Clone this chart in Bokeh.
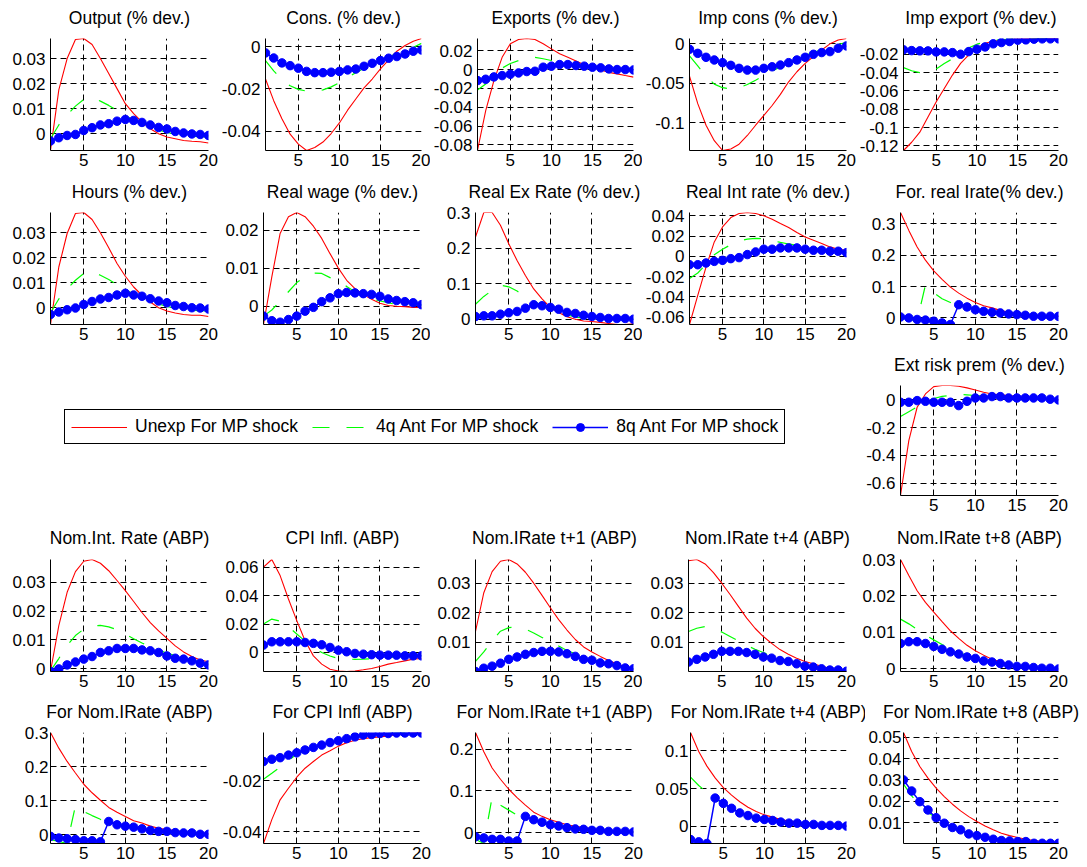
from bokeh.plotting import figure
from bokeh.layouts import column, row
from bokeh.models import (Range1d, FixedTicker, CustomJSTickFormatter,
                          Legend, LegendItem, LinearAxis)
from bokeh.embed import file_html
from bokeh.resources import INLINE

periods = list(range(1, 21))

series_names = ["Unexp For MP shock", "4q Ant For MP shock", "8q Ant For MP shock"]
x_ticks = [5, 10, 15, 20]

# ---- responses (20 quarters) ----
output_unexp = [-0.0067, 0.0175, 0.030, 0.0376, 0.038, 0.0356, 0.030, 0.024, 0.018, 0.012,
                0.008, 0.0047, 0.002, 0.0, -0.0013, -0.002, -0.0027, -0.003, -0.0032, -0.0037]
output_ant4 = [-0.002, 0.0035, 0.0075, 0.011, 0.0137, 0.0145, 0.013, 0.0113, 0.0093, 0.0072,
               0.0055, 0.0042, 0.003, 0.0015, 0.0005, -0.0002, -0.0006, -0.001, -0.0012, -0.0013]
output_ant8 = [-0.0029, -0.0016, -0.0007, -0.0003, 0.0013, 0.0024, 0.0035, 0.004, 0.005, 0.0057,
               0.0053, 0.0045, 0.0035, 0.0025, 0.0019, 0.0009, 0.0003, -0.0001, -0.0003, -0.0007]
output_yticks = [0, 0.01, 0.02, 0.03]

cons_unexp = [-0.0153, -0.0255, -0.034, -0.0413, -0.046, -0.049, -0.0476, -0.045, -0.041, -0.036,
              -0.030, -0.0247, -0.0195, -0.0153, -0.0105, -0.0063, -0.0022, 0.0005, 0.0025, 0.0038]
cons_ant4 = [-0.0066, -0.0115, -0.0155, -0.0185, -0.0202, -0.021, -0.021, -0.0204, -0.019, -0.017,
             -0.0145, -0.0123, -0.0102, -0.0085, -0.0068, -0.005, -0.0033, -0.0018, -0.0003, 0.0015]
cons_ant8 = [-0.003, -0.0054, -0.0077, -0.009, -0.0102, -0.0117, -0.0123, -0.0123, -0.0121, -0.0117,
             -0.011, -0.0106, -0.0093, -0.0079, -0.0066, -0.0055, -0.0047, -0.0035, -0.0022, -0.0016]
cons_yticks = [-0.04, -0.02, 0]

exports_unexp = [-0.086, -0.0437, -0.0117, 0.013, 0.0275, 0.032, 0.033, 0.032, 0.0275, 0.022,
                 0.0167, 0.013, 0.009, 0.005, 0.0025, -0.0004, -0.003, -0.0046, -0.0064, -0.008]
exports_ant4 = [-0.0217, -0.0153, -0.007, 0.0015, 0.0065, 0.0096, 0.012, 0.013, 0.0115, 0.0096,
                0.008, 0.0062, 0.0045, 0.003, 0.0015, 0.0, -0.0008, -0.0012, -0.0012, -0.001]
exports_ant8 = [-0.0117, -0.0103, -0.0078, -0.0064, -0.005, -0.0036, -0.0021, -0.0018, 0.0025, 0.0036,
                0.0053, 0.0053, 0.0043, 0.0036, 0.0025, 0.0018, 0.0007, 0.0, 0.0, -0.0004]
exports_yticks = [-0.08, -0.06, -0.04, -0.02, 0, 0.02]

impcons_unexp = [-0.041, -0.0757, -0.103, -0.1226, -0.135, -0.133, -0.127, -0.116, -0.103, -0.0906,
                 -0.078, -0.064, -0.048, -0.0353, -0.0247, -0.016, -0.0077, 0.0, 0.005, 0.0068]
impcons_ant4 = [-0.0153, -0.028, -0.041, -0.051, -0.0555, -0.057, -0.0555, -0.0515, -0.046, -0.040,
                -0.0345, -0.029, -0.024, -0.019, -0.0145, -0.011, -0.007, -0.004, -0.001, 0.002]
impcons_ant8 = [-0.0068, -0.012, -0.017, -0.0204, -0.0238, -0.0272, -0.031, -0.0332, -0.0332, -0.031,
                -0.029, -0.0268, -0.0238, -0.0204, -0.017, -0.0132, -0.011, -0.0098, -0.0055, -0.0026]
impcons_yticks = [-0.1, -0.05, 0]

impexp_unexp = [-0.125, -0.116, -0.105, -0.0885, -0.072, -0.0574, -0.0427, -0.030, -0.0207, -0.0134,
                -0.008, -0.0058, -0.0047, -0.0036, -0.0033, -0.003, -0.0029, -0.0028, -0.0028, -0.0028]
impexp_ant4 = [-0.0346, -0.038, -0.040, -0.039, -0.036, -0.030, -0.025, -0.018, -0.013, -0.009,
               -0.0065, -0.005, -0.004, -0.0035, -0.0033, -0.0032, -0.0031, -0.003, -0.003, -0.003]
impexp_ant8 = [-0.0152, -0.016, -0.0163, -0.0163, -0.0174, -0.0174, -0.0182, -0.020, -0.0171, -0.0145,
               -0.012, -0.0086, -0.0072, -0.0061, -0.0046, -0.0043, -0.0035, -0.0032, -0.0032, -0.0032]
impexp_yticks = [-0.12, -0.1, -0.08, -0.06, -0.04, -0.02]

hours_unexp = [-0.0067, 0.0163, 0.0297, 0.0377, 0.0381, 0.0353, 0.030, 0.024, 0.0177, 0.0126,
               0.0083, 0.005, 0.0023, 0.0, -0.0013, -0.0021, -0.0027, -0.003, -0.003, -0.0035]
hours_ant4 = [-0.002, 0.0035, 0.0075, 0.011, 0.0137, 0.0145, 0.013, 0.0113, 0.0093, 0.0072,
              0.0055, 0.0042, 0.003, 0.0015, 0.0005, -0.0002, -0.0006, -0.001, -0.0012, -0.0013]
hours_ant8 = [-0.0027, -0.0017, -0.0008, -0.0001, 0.0013, 0.0025, 0.0035, 0.0041, 0.0051, 0.0058,
              0.0051, 0.0046, 0.0036, 0.0027, 0.002, 0.0009, 0.0005, 0.0, -0.0001, -0.0005]
hours_yticks = [0, 0.01, 0.02, 0.03]

wage_unexp = [-0.0048, 0.0077, 0.0191, 0.0235, 0.0246, 0.0235, 0.021, 0.0178, 0.0138, 0.010,
              0.0068, 0.0046, 0.0031, 0.0018, 0.0008, 0.0002, 0.0, -0.0001, -0.0003, -0.0003]
wage_ant4 = [-0.0026, -0.001, 0.0013, 0.0038, 0.0062, 0.0078, 0.0087, 0.0086, 0.0075, 0.0063,
             0.0052, 0.0038, 0.0025, 0.0019, 0.0014, 0.0009, 0.0005, 0.0003, 0.0002, 0.0002]
wage_ant8 = [-0.0026, -0.0038, -0.0042, -0.0035, -0.0026, -0.0013, -0.0003, 0.0012, 0.0022, 0.0033,
             0.0036, 0.0035, 0.0033, 0.0031, 0.0026, 0.0019, 0.0015, 0.0012, 0.0009, 0.0004]
wage_yticks = [0, 0.01, 0.02]

rer_unexp = [0.231, 0.300, 0.300, 0.264, 0.212, 0.165, 0.123, 0.085, 0.057, 0.033,
             0.019, 0.0066, 0.0, -0.005, -0.0066, -0.009, -0.012, -0.015, -0.015, -0.013]
rer_ant4 = [0.042, 0.064, 0.081, 0.096, 0.091, 0.079, 0.064, 0.05, 0.039, 0.03,
            0.02, 0.012, 0.006, 0.003, 0.0015, 0.0005, 0.0, -0.0005, -0.0005, -0.0005]
rer_ant8 = [0.0075, 0.0094, 0.0094, 0.014, 0.018, 0.0217, 0.031, 0.0406, 0.0377, 0.033,
            0.028, 0.019, 0.016, 0.011, 0.0075, 0.0047, 0.0019, 0.0019, 0.0019, 0.0]
rer_yticks = [0, 0.1, 0.2, 0.3]

rir_unexp = [-0.0674, -0.0387, -0.0106, 0.0142, 0.029, 0.0383, 0.0423, 0.0433, 0.0423, 0.040,
             0.0367, 0.0324, 0.0284, 0.0235, 0.019, 0.0159, 0.0126, 0.0093, 0.007, 0.006]
rir_ant4 = [-0.022, -0.0165, -0.008, 0.0015, 0.007, 0.0115, 0.015, 0.017, 0.0178, 0.0172,
            0.0155, 0.0138, 0.0122, 0.0108, 0.0095, 0.0083, 0.0072, 0.0062, 0.0052, 0.0045]
rir_ant8 = [-0.0083, -0.0083, -0.0066, -0.005, -0.004, -0.0023, -0.0013, 0.0017, 0.0043, 0.007,
            0.007, 0.0083, 0.0083, 0.0083, 0.007, 0.006, 0.006, 0.005, 0.005, 0.0036]
rir_yticks = [-0.06, -0.04, -0.02, 0, 0.02, 0.04]

frir_unexp = [0.336, 0.279, 0.226, 0.184, 0.15, 0.123, 0.098, 0.079, 0.063, 0.049,
              0.039, 0.032, 0.024, 0.018, 0.014, 0.0105, 0.0084, 0.0074, 0.0053, 0.005]
frir_ant4 = [0.0, -0.005, -0.009, 0.105, 0.08, 0.061, 0.049, 0.041, 0.034, 0.027,
             0.022, 0.018, 0.015, 0.012, 0.0095, 0.0078, 0.0064, 0.0053, 0.0045, 0.004]
frir_ant8 = [0.003, 0.0, -0.005, -0.007, -0.0105, -0.016, -0.021, 0.042, 0.035, 0.026,
             0.021, 0.018, 0.016, 0.0126, 0.0105, 0.0084, 0.0053, 0.0053, 0.0053, 0.005]
frir_yticks = [0, 0.1, 0.2, 0.3]

erp_unexp = [-0.69, -0.294, -0.053, 0.043, 0.096, 0.104, 0.104, 0.099, 0.087, 0.072,
             0.055, 0.043, 0.036, 0.031, 0.024, 0.019, 0.014, 0.01, 0.005, 0.002]
erp_ant4 = [-0.12, -0.085, -0.05, -0.02, 0.01, 0.025, 0.033, 0.038, 0.037, 0.032,
            0.027, 0.022, 0.018, 0.014, 0.011, 0.008, 0.006, 0.004, 0.003, 0.002]
erp_ant8 = [-0.017, -0.017, -0.005, -0.01, -0.017, -0.017, -0.017, -0.041, -0.01, 0.014,
            0.014, 0.024, 0.024, 0.014, 0.014, 0.014, 0.014, 0.014, 0.005, 0.0]
erp_yticks = [-0.6, -0.4, -0.2, 0]

nir_unexp = [-0.001, 0.0149, 0.0265, 0.0337, 0.0373, 0.0379, 0.0366, 0.034, 0.0306, 0.0271,
             0.0233, 0.0195, 0.016, 0.0131, 0.0105, 0.0079, 0.0058, 0.0042, 0.003, 0.0024]
nir_ant4 = [-0.0008, 0.0035, 0.008, 0.0115, 0.0137, 0.0148, 0.015, 0.0145, 0.0135, 0.012,
            0.0104, 0.0089, 0.0075, 0.0064, 0.0054, 0.0045, 0.0037, 0.003, 0.0023, 0.0017]
nir_ant8 = [-0.001, -0.0001, 0.0013, 0.0023, 0.0033, 0.0042, 0.0056, 0.0062, 0.007, 0.007,
            0.007, 0.0065, 0.0062, 0.0056, 0.0044, 0.0036, 0.0033, 0.0027, 0.0019, 0.0013]
nir_yticks = [0, 0.01, 0.02, 0.03]

cpi_unexp = [0.06, 0.0654, 0.0541, 0.0376, 0.0224, 0.0082, -0.0024, -0.0082, -0.0118, -0.013,
             -0.0134, -0.013, -0.0122, -0.0113, -0.0099, -0.0082, -0.0071, -0.0059, -0.0047, -0.0042]
cpi_ant4 = [0.02, 0.0235, 0.022, 0.018, 0.013, 0.008, 0.0035, 0.0, -0.0025, -0.0042,
            -0.0047, -0.0048, -0.0047, -0.0044, -0.004, -0.0035, -0.0031, -0.0028, -0.0026, -0.0024]
cpi_ant8 = [0.0052, 0.0075, 0.0075, 0.0075, 0.0075, 0.007, 0.0064, 0.0054, 0.0035, 0.0016,
            0.0005, -0.0007, -0.0012, -0.0016, -0.0019, -0.0019, -0.0019, -0.0024, -0.0024, -0.0024]
cpi_yticks = [0, 0.02, 0.04, 0.06]

nir1_unexp = [0.0137, 0.0268, 0.0339, 0.0374, 0.038, 0.0365, 0.0337, 0.030, 0.0259, 0.0217,
              0.0177, 0.0142, 0.011, 0.0085, 0.0068, 0.0053, 0.0039, 0.0028, 0.0017, 0.0007]
nir1_ant4 = [0.0036, 0.0068, 0.0105, 0.0138, 0.015, 0.0152, 0.0145, 0.0132, 0.0117, 0.0102,
             0.0088, 0.0073, 0.0062, 0.0052, 0.0043, 0.0035, 0.0027, 0.0021, 0.0015, 0.001]
nir1_ant8 = [0.0002, 0.0013, 0.002, 0.003, 0.0043, 0.0051, 0.006, 0.0066, 0.007, 0.007,
             0.0068, 0.0062, 0.0053, 0.0043, 0.004, 0.0031, 0.0028, 0.0022, 0.0014, 0.0011]
nir1_yticks = [0.01, 0.02, 0.03]

nir4_unexp = [0.0376, 0.038, 0.0365, 0.0336, 0.030, 0.0262, 0.0222, 0.0182, 0.0148, 0.012,
              0.0097, 0.0076, 0.006, 0.0047, 0.0036, 0.0028, 0.002, 0.0013, 0.0007, 0.0002]
nir4_ant4 = [0.0137, 0.0148, 0.0154, 0.0148, 0.0135, 0.012, 0.0105, 0.009, 0.0077, 0.0066,
             0.0056, 0.0047, 0.0039, 0.0032, 0.0025, 0.002, 0.0015, 0.001, 0.0006, 0.0003]
nir4_ant8 = [0.0034, 0.0043, 0.0051, 0.006, 0.007, 0.007, 0.007, 0.0066, 0.006, 0.0051,
             0.0047, 0.0039, 0.0036, 0.0028, 0.002, 0.0017, 0.0011, 0.0007, 0.0007, 0.0003]
nir4_yticks = [0.01, 0.02, 0.03]

nir8_unexp = [0.030, 0.0256, 0.0214, 0.0182, 0.0155, 0.0129, 0.0104, 0.0083, 0.0064, 0.0049,
              0.0037, 0.0026, 0.0018, 0.0012, 0.0007, 0.0005, 0.0001, 0.0, -0.0004, -0.0008]
nir8_ant4 = [0.0136, 0.0123, 0.0108, 0.0092, 0.0079, 0.0066, 0.0055, 0.0045, 0.0036, 0.0029,
             0.0022, 0.0017, 0.0012, 0.0009, 0.0006, 0.0004, 0.0002, 0.0001, 0.0, -0.0001]
nir8_ant8 = [0.0069, 0.0074, 0.0074, 0.0069, 0.0061, 0.0053, 0.0046, 0.004, 0.0032, 0.0028,
             0.0021, 0.0018, 0.0014, 0.001, 0.0006, 0.0006, 0.0003, 0.0001, 0.0001, -0.0001]
nir8_yticks = [0, 0.01, 0.02, 0.03]

fnir_unexp = [0.3, 0.254, 0.215, 0.181, 0.148, 0.123, 0.101, 0.08, 0.066, 0.053,
              0.041, 0.034, 0.025, 0.019, 0.015, 0.012, 0.008, 0.006, 0.005, 0.003]
fnir_ant4 = [-0.015, -0.02, -0.026, 0.085, 0.068, 0.056, 0.045, 0.036, 0.03, 0.025,
             0.02, 0.016, 0.013, 0.01, 0.008, 0.006, 0.005, 0.004, 0.003, 0.002]
fnir_ant8 = [-0.005, -0.01, -0.012, -0.0145, -0.018, -0.018, -0.021, 0.0386, 0.029, 0.025,
             0.022, 0.017, 0.0125, 0.0096, 0.0096, 0.006, 0.005, 0.005, 0.001, 0.001]
fnir_yticks = [0, 0.1, 0.2, 0.3]

fcpi_unexp = [-0.0445, -0.0352, -0.0275, -0.023, -0.0187, -0.0152, -0.0126, -0.0101, -0.0084, -0.0066,
              -0.0053, -0.0043, -0.0037, -0.0033, -0.003, -0.0026, -0.0021, -0.0017, -0.0015, -0.0013]
fcpi_ant4 = [-0.0195, -0.0172, -0.0148, -0.0122, -0.0098, -0.0082, -0.007, -0.006, -0.0051, -0.0044,
             -0.0037, -0.003, -0.0025, -0.0021, -0.0018, -0.0016, -0.0015, -0.0014, -0.0014, -0.0014]
fcpi_ant8 = [-0.0126, -0.0117, -0.0111, -0.0101, -0.0092, -0.0081, -0.0071, -0.0062, -0.0052, -0.0045,
             -0.0037, -0.003, -0.0023, -0.0021, -0.0017, -0.0017, -0.0015, -0.0015, -0.0015, -0.0015]
fcpi_yticks = [-0.04, -0.02]

fnir1_unexp = [0.24, 0.194, 0.155, 0.128, 0.104, 0.084, 0.066, 0.049, 0.039, 0.031,
               0.025, 0.019, 0.015, 0.012, 0.009, 0.007, 0.005, 0.003, 0.002, 0.0016]
fnir1_ant4 = [-0.016, -0.026, 0.085, 0.066, 0.054, 0.042, 0.035, 0.029, 0.024, 0.019,
              0.015, 0.012, 0.0095, 0.0075, 0.006, 0.0045, 0.0035, 0.0025, 0.002, 0.0015]
fnir1_ant8 = [-0.01, -0.0126, -0.016, -0.016, -0.02, -0.02, 0.039, 0.031, 0.025, 0.019,
              0.016, 0.012, 0.009, 0.008, 0.0055, 0.0055, 0.003, 0.003, 0.003, 0.0016]
fnir1_yticks = [0, 0.1, 0.2]

fnir4_unexp = [0.124, 0.099, 0.0796, 0.064, 0.0513, 0.0413, 0.0326, 0.0252, 0.0196, 0.0152,
               0.0122, 0.0091, 0.007, 0.0057, 0.0043, 0.0035, 0.0026, 0.0022, 0.0013, 0.0013]
fnir4_ant4 = [0.065, 0.054, 0.045, 0.037, 0.030, 0.024, 0.018, 0.0143, 0.011, 0.009,
              0.0075, 0.0058, 0.0045, 0.0035, 0.0027, 0.002, 0.0014, 0.001, 0.0007, 0.0004]
fnir4_ant8 = [-0.0174, -0.0204, -0.0226, 0.0374, 0.0304, 0.0239, 0.0178, 0.0143, 0.0109, 0.0091,
              0.0078, 0.0057, 0.0043, 0.0043, 0.0026, 0.0026, 0.0013, 0.0013, 0.0013, 0.0004]
fnir4_yticks = [0, 0.05, 0.1]

fnir8_unexp = [0.0522, 0.0433, 0.0363, 0.0308, 0.0261, 0.0222, 0.0186, 0.0155, 0.0128, 0.0105,
               0.0084, 0.0066, 0.005, 0.0039, 0.003, 0.0022, 0.0016, 0.0011, 0.0008, 0.0003]
fnir8_ant4 = [0.028, 0.0225, 0.018, 0.0148, 0.012, 0.0095, 0.0077, 0.0062, 0.0049, 0.0039,
              0.0031, 0.0024, 0.0018, 0.0014, 0.0011, 0.0008, 0.0006, 0.0004, 0.0003, 0.0002]
fnir8_ant8 = [0.030, 0.0248, 0.0198, 0.0159, 0.0123, 0.0097, 0.0077, 0.0066, 0.0047, 0.0039,
              0.0031, 0.0022, 0.0016, 0.0014, 0.0011, 0.0011, 0.0003, 0.0003, 0.0003, 0.0003]
fnir8_yticks = [0.01, 0.02, 0.03, 0.04, 0.05]

# ---- page geometry ----
FONT = "Liberation Sans"
FRAME_W = 158
COL_W = [218, 212, 212, 214, 224]     # figure widths per column
COL_L = [50, 45, 45, 46, 44]          # left border per column
# the bottom row has long titles, so its columns are laid out a little wider on the right
COL_W_LAST = [218, 214, 220, 213, 218]
COL_L_LAST = [50, 45, 43, 36, 35]
ROWS = [(174, 38, 24), (174, 38, 24), (171, 37, 24), (176, 40, 24), (171, 37, 23)]  # height, top, bottom
HEAD_GAP = [11, 11, 11, 12, 11]       # distance from heading to frame, per row

RED, GREEN, BLUE = "#ff0000", "#00ff00", "#0000ff"
tick_fmt = "return String(tick)"


def panel(title, unexp, ant4, ant8, yticks, col, row_idx):
    h, top, bottom = ROWS[row_idx]
    widths, lefts = (COL_W_LAST, COL_L_LAST) if row_idx == 4 else (COL_W, COL_L)
    lo = min(unexp + ant4 + ant8)
    hi = max(unexp + ant4 + ant8)
    p = figure(width=widths[col], height=h,
               min_border_left=lefts[col], min_border_right=widths[col] - lefts[col] - FRAME_W,
               min_border_top=top, min_border_bottom=bottom,
               x_range=Range1d(1, 20), y_range=Range1d(lo, hi),
               output_backend="svg", toolbar_location=None)
    p.outline_line_color = None
    p.background_fill_color = "white"
    p.border_fill_color = "white"

    xax = p.below[0]
    yax = p.left[0]

    # heading as the label of a tickless axis above the frame
    head = LinearAxis(ticker=FixedTicker(ticks=[]), axis_label=title,
                      axis_line_color=None, major_tick_out=0, major_tick_in=0,
                      minor_tick_out=0, minor_tick_in=0, major_label_standoff=0,
                      axis_label_standoff=HEAD_GAP[row_idx],
                      axis_label_text_font=FONT, axis_label_text_font_size="17.5px",
                      axis_label_text_font_style="normal", axis_label_text_color="black")
    p.add_layout(head, "above")

    xax.ticker = FixedTicker(ticks=x_ticks)
    yax.ticker = FixedTicker(ticks=yticks)
    for ax in (xax, yax):
        ax.formatter = CustomJSTickFormatter(code=tick_fmt)
        ax.axis_line_color = "black"
        ax.axis_line_width = 1
        ax.major_tick_in = 0
        ax.major_tick_out = 0
        ax.minor_tick_in = 0
        ax.minor_tick_out = 0
        ax.major_label_text_font = FONT
        ax.major_label_text_font_size = "17px"
        ax.major_label_text_color = "black"
    xax.major_label_standoff = 3
    yax.major_label_standoff = 2 if row_idx == 4 else 5

    for g in (p.xgrid[0], p.ygrid[0]):
        g.grid_line_color = "black"
        g.grid_line_dash = "6 4"
        g.grid_line_width = 1

    p.line(periods, unexp, line_color=RED, line_width=1.1)
    p.line(periods, ant4, line_color=GREEN, line_width=1.2, line_dash="17 17")
    p.line(periods, ant8, line_color=BLUE, line_width=1.5)
    p.scatter(periods, ant8, size=8.5, fill_color=BLUE, line_color=BLUE)
    return p


row1 = [
    panel("Output (% dev.)", output_unexp, output_ant4, output_ant8, output_yticks, 0, 0),
    panel("Cons. (% dev.)", cons_unexp, cons_ant4, cons_ant8, cons_yticks, 1, 0),
    panel("Exports (% dev.)", exports_unexp, exports_ant4, exports_ant8, exports_yticks, 2, 0),
    panel("Imp cons (% dev.)", impcons_unexp, impcons_ant4, impcons_ant8, impcons_yticks, 3, 0),
    panel("Imp export (% dev.)", impexp_unexp, impexp_ant4, impexp_ant8, impexp_yticks, 4, 0),
]
row2 = [
    panel("Hours (% dev.)", hours_unexp, hours_ant4, hours_ant8, hours_yticks, 0, 1),
    panel("Real wage (% dev.)", wage_unexp, wage_ant4, wage_ant8, wage_yticks, 1, 1),
    panel("Real Ex Rate (% dev.)", rer_unexp, rer_ant4, rer_ant8, rer_yticks, 2, 1),
    panel("Real Int rate (% dev.)", rir_unexp, rir_ant4, rir_ant8, rir_yticks, 3, 1),
    panel("For. real Irate(% dev.)", frir_unexp, frir_ant4, frir_ant8, frir_yticks, 4, 1),
]
risk = panel("Ext risk prem (% dev.)", erp_unexp, erp_ant4, erp_ant8, erp_yticks, 4, 2)
row4 = [
    panel("Nom.Int. Rate (ABP)", nir_unexp, nir_ant4, nir_ant8, nir_yticks, 0, 3),
    panel("CPI Infl. (ABP)", cpi_unexp, cpi_ant4, cpi_ant8, cpi_yticks, 1, 3),
    panel("Nom.IRate t+1 (ABP)", nir1_unexp, nir1_ant4, nir1_ant8, nir1_yticks, 2, 3),
    panel("Nom.IRate t+4 (ABP)", nir4_unexp, nir4_ant4, nir4_ant8, nir4_yticks, 3, 3),
    panel("Nom.IRate t+8 (ABP)", nir8_unexp, nir8_ant4, nir8_ant8, nir8_yticks, 4, 3),
]
row5 = [
    panel("For Nom.IRate (ABP)", fnir_unexp, fnir_ant4, fnir_ant8, fnir_yticks, 0, 4),
    panel("For CPI Infl (ABP)", fcpi_unexp, fcpi_ant4, fcpi_ant8, fcpi_yticks, 1, 4),
    panel("For Nom.IRate t+1 (ABP)", fnir1_unexp, fnir1_ant4, fnir1_ant8, fnir1_yticks, 2, 4),
    panel("For Nom.IRate t+4 (ABP)", fnir4_unexp, fnir4_ant4, fnir4_ant8, fnir4_yticks, 3, 4),
    panel("For Nom.IRate t+8 (ABP)", fnir8_unexp, fnir8_ant4, fnir8_ant8, fnir8_yticks, 4, 4),
]

# ---- shared legend in the free space of the third row ----
leg_h = ROWS[2][0]
leg_fig = figure(width=sum(COL_W[:4]), height=leg_h, min_border=0,
                 x_range=Range1d(0, 1), y_range=Range1d(0, 1),
                 x_axis_location=None, y_axis_location=None,
                 output_backend="svg", toolbar_location=None)
leg_fig.grid.visible = False
leg_fig.outline_line_color = None
leg_fig.background_fill_color = "white"
leg_fig.border_fill_color = "white"
# keys sit outside the visible range; only their legend swatches show
off = [5, 6]
r_unexp = leg_fig.line(off, off, line_color=RED, line_width=1.1)
r_ant4 = leg_fig.line(off, off, line_color=GREEN, line_width=1.2, line_dash="17 17")
r_ant8 = leg_fig.line(off, off, line_color=BLUE, line_width=1.5)
r_ant8m = leg_fig.scatter(off, off, size=6, fill_color=BLUE, line_color=BLUE)
legend = Legend(items=[LegendItem(label=series_names[0], renderers=[r_unexp]),
                       LegendItem(label=series_names[1], renderers=[r_ant4]),
                       LegendItem(label=series_names[2], renderers=[r_ant8, r_ant8m])],
                location=(64, 51), orientation="horizontal",
                glyph_width=56, glyph_height=20, label_height=20,
                label_standoff=8, spacing=14, padding=6, margin=0,
                label_text_font=FONT, label_text_font_size="17.5px", label_text_color="black",
                border_line_color="black", border_line_width=1.5, border_line_alpha=1.0,
                background_fill_color="white", background_fill_alpha=1.0)
leg_fig.add_layout(legend)

layout = column(row(*row1), row(*row2), row(leg_fig, risk), row(*row4), row(*row5))

with open("out.html", "w") as f:
    f.write(file_html(layout, INLINE))
